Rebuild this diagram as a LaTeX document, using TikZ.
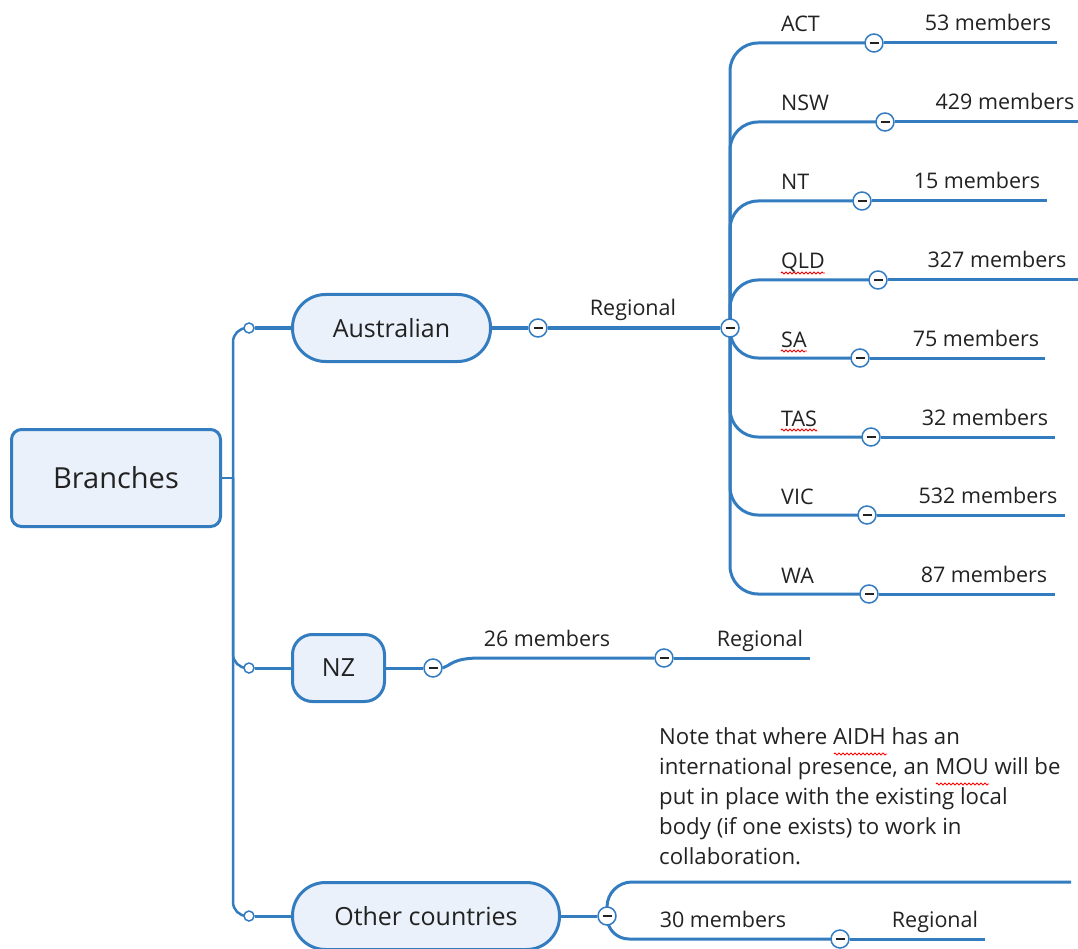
\documentclass[tikz,border=0pt]{standalone}
\usepackage{fontspec}
\setmainfont{Open Sans}
\usetikzlibrary{backgrounds,decorations.pathmorphing}
\definecolor{LineClr}{RGB}{52,124,192}
\definecolor{FillClr}{RGB}{234,241,250}
\definecolor{TextClr}{RGB}{34,34,34}

\begin{document}
\begin{tikzpicture}[x=1pt,y=-1pt,
  box/.style={draw=LineClr,fill=FillClr,line width=3pt,text=TextClr,inner sep=0pt},
  branch/.style={draw=LineClr,line width=3pt},
  trunk/.style={draw=LineClr,line width=2.5pt},
  knob/.style={circle,draw=LineClr,fill=white,line width=1.5pt,minimum size=10pt,inner sep=0pt},
  btn/.style={circle,draw=LineClr,fill=white,line width=1.5pt,minimum size=18pt,inner sep=0pt,
    path picture={\draw[line width=2pt,TextClr] ([xshift=-4.5pt]path picture bounding box.center) -- ([xshift=4.5pt]path picture bounding box.center);}},
  lbl/.style={inner sep=0pt,text=TextClr,font=\fontsize{21.5}{30}\selectfont},
  spell/.style={draw=red,line width=0.8pt,decorate,decoration={zigzag,segment length=4pt,amplitude=1.1pt}}]
\useasboundingbox (0,0) rectangle (1078,949);

\node[box,rounded corners=10pt,minimum width=209pt,minimum height=97pt,font=\fontsize{29}{34}\selectfont] (root) at (116,478) {Branches};
\node[box,rounded corners=33pt,minimum width=198pt,minimum height=67pt,font=\fontsize{25}{30}\selectfont] (aus) at (391.5,328) {Australian};
\node[box,rounded corners=20pt,minimum width=92pt,minimum height=67pt,font=\fontsize{25}{30}\selectfont] (nz) at (338.5,668) {NZ};
\node[box,rounded corners=33pt,minimum width=267pt,minimum height=67pt,font=\fontsize{25}{30}\selectfont] (oth) at (426,916) {Other countries};

\node[knob] (kA) at (249,328) {};
\node[knob] (kN) at (249,668) {};
\node[knob] (kO) at (249,916) {};
\coordinate (trunk) at (233,478);

\begin{pgfonlayer}{background}
\draw[trunk] (root) -- (trunk);
\draw[trunk,rounded corners=14pt] (kA.center) -| (trunk) |- (kO.center);
\draw[trunk,rounded corners=14pt] (trunk) |- (kN.center);
\end{pgfonlayer}
\draw[branch] (kA) -- (aus);
\draw[branch] (kN) -- (nz);
\draw[branch] (kO) -- (oth);

\node[btn] (ab) at (538,328) {};
\node[btn] (reg) at (730,328) {};
\node[lbl,anchor=base] (lreg) at (633,316) {Regional};
\draw[branch] (aus) -- (ab);
\draw[branch] (ab) -- (reg);

\foreach \st/\sp/\y/\bx/\ex/\mx/\num in {ACT/0/43/874/1057/988/53,
  NSW/0/122/885/1078/1005/429, NT/0/201/862/1047/977/15,
  QLD/1/280/878/1078/997/327, SA/1/358/860/1045/976/75,
  TAS/1/437/871/1055/985/32, VIC/0/515/867/1065/988/532,
  WA/0/594/869/1055/984/87}
{
  \node[btn] (b\st) at (\bx,\y) {};
  \coordinate (e\st) at (\ex,\y);
  \node[lbl,anchor=base west] (s\st) at (781,\y-11) {\st};
  \node[lbl,anchor=base] (m\st) at (\mx,\y-12) {\num\ members};
  \ifnum\sp=1
    \draw[spell] ([yshift=-4pt]s\st.base west) -- ([yshift=-4pt]s\st.base east);
  \fi
  \begin{pgfonlayer}{background}
    \draw[branch,rounded corners=28pt] (reg.center) |- (b\st.center);
  \end{pgfonlayer}
  \draw[branch] (b\st) -- (e\st);
}

\node[btn] (nzb) at (433,668) {};
\node[btn] (nzr) at (664,658) {};
\coordinate (nze) at (810,658);
\node[lbl,anchor=base] (nzm) at (547,646) {26 members};
\node[lbl,anchor=base] (nzl) at (760,646) {Regional};
\draw[branch] (nz) -- (nzb);
\draw[branch] (nzb.east) .. controls (450,666) and (452,658) .. (480,658) -- (nzr);
\draw[branch] (nzr) -- (nze);

\node[btn] (ob) at (607,916) {};
\node[btn] (orr) at (840,939) {};
\coordinate (oup) at (1071,882);
\coordinate (oe) at (985,939);
\node[lbl,anchor=north west,align=left,font=\fontsize{22.2}{30}\selectfont] (note) at (659,727) {Note that where AIDH has an\\international presence, an MOU will be\\put in place with the existing local\\body (if one exists) to work in\\collaboration.};
\draw[spell] (834,754) -- (887,754);
\draw[spell] (936,784) -- (989,784);
\node[lbl,anchor=base] (om) at (723,927) {30 members};
\node[lbl,anchor=base] (ol) at (935,927) {Regional};
\draw[branch] (oth) -- (ob);
\begin{pgfonlayer}{background}
\draw[branch,rounded corners=25pt] (ob.center) |- (oup);
\draw[branch,rounded corners=22pt] (ob.center) |- (orr.center);
\end{pgfonlayer}
\draw[branch] (orr) -- (oe);

\end{tikzpicture}
\end{document}
